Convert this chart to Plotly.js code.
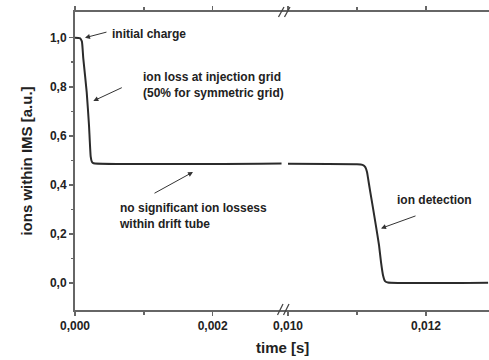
<!DOCTYPE html>
<html>
<head>
<meta charset="utf-8">
<script src="https://cdn.plot.ly/plotly-3.0.1.min.js"></script>
<style>html,body{margin:0;padding:0;background:#fff;}#chart{width:489px;height:360px;}</style>
</head>
<body>
<div id="chart"></div>
<script>
// Early part of the time axis (before the break), seconds
const leftTime = [0, 0.00007, 0.0001, 0.00012, 0.00017, 0.000203, 0.000228, 0.000245, 0.00027, 0.00300];
const leftIons = [1.0, 0.998, 0.985, 0.917, 0.778, 0.644, 0.515, 0.494, 0.488, 0.487];
// Late part of the time axis (after the break), seconds
const rightTime = [0.01000, 0.01100, 0.01108, 0.01112, 0.011145, 0.01116, 0.011188, 0.011232, 0.011275, 0.011319, 0.011348, 0.011377, 0.011406, 0.011449, 0.0129];
const rightIons = [0.486, 0.484, 0.481, 0.472, 0.452, 0.427, 0.378, 0.305, 0.231, 0.154, 0.084, 0.031, 0.007, 0.001, 0.0];
// Tick labels
const leftMajorTicks = [0, 0.002];
const leftMinorTicks = [0.001];
const rightMajorTicks = [0.010, 0.012];
const rightMinorTicks = [0.011];
const yMajorTicks = [0, 0.2, 0.4, 0.6, 0.8, 1.0];
const yMinorTicks = [0.1, 0.3, 0.5, 0.7, 0.9];

const FONT = 'Liberation Sans, Arial, sans-serif';
const TXT = '#222';
const AX = '#666';
const LINE = '#2b2b2b';

function bold(s){ return '<b>' + s + '</b>'; }

const traces = [
  {x: leftTime, y: leftIons, xaxis: 'x', yaxis: 'y', mode: 'lines',
   line: {color: LINE, width: 2, shape: 'spline', smoothing: 0.4}, hoverinfo: 'skip'},
  {x: rightTime, y: rightIons, xaxis: 'x2', yaxis: 'y', mode: 'lines',
   line: {color: LINE, width: 2, shape: 'spline', smoothing: 0.4}, hoverinfo: 'skip'}
];

const xCommon = {
  showline: true, linecolor: AX, linewidth: 2, mirror: 'ticks',
  ticks: 'outside', ticklen: 4, tickwidth: 1.5, tickcolor: AX,
  showgrid: false, zeroline: false, tickformat: '.3f',
  tickfont: {family: FONT, size: 12, color: TXT, weight: 'bold'},
  tickmode: 'array'
};

const split = (288 - 75) / 414;

const layout = {
  width: 489, height: 360,
  margin: {l: 75, r: 0, t: 12, b: 50},
  paper_bgcolor: '#fff', plot_bgcolor: '#fff',
  showlegend: false,
  separators: ',.',
  font: {family: FONT, color: TXT},
  xaxis: Object.assign({}, xCommon, {
    domain: [0, split], range: [0, 0.003094], anchor: 'y',
    tickvals: leftMajorTicks,
    minor: {tickmode: 'array', tickvals: leftMinorTicks, ticks: 'outside', ticklen: 3, tickwidth: 1.5, tickcolor: AX}
  }),
  xaxis2: Object.assign({}, xCommon, {
    domain: [split, 1], range: [0.010, 0.012913], anchor: 'y',
    tickvals: rightMajorTicks,
    minor: {tickmode: 'array', tickvals: rightMinorTicks, ticks: 'outside', ticklen: 3, tickwidth: 1.5, tickcolor: AX}
  }),
  yaxis: {
    range: [-0.111, 1.105], showline: true, linecolor: AX, linewidth: 2, mirror: false,
    ticks: 'outside', ticklen: 4, tickwidth: 1.5, tickcolor: AX,
    showgrid: false, zeroline: false, tickformat: '.1f',
    tickmode: 'array', tickvals: yMajorTicks,
    minor: {tickmode: 'array', tickvals: yMinorTicks, ticks: 'outside', ticklen: 2, tickwidth: 1.5, tickcolor: AX},
    tickfont: {family: FONT, size: 12, color: TXT, weight: 'bold'},
    title: {text: bold('ions within IMS [a.u.]'), font: {family: FONT, size: 15, color: TXT}, standoff: 14}
  },
  annotations: [
    // arrows
    {xref: 'x', yref: 'y', x: 0.000145, y: 1.0, ax: 23, ay: -6, text: '', showarrow: true,
     arrowhead: 2, arrowsize: 1, arrowwidth: 1, arrowcolor: '#333'},
    {xref: 'x', yref: 'y', x: 0.000266, y: 0.742, ax: 30, ay: -14, text: '', showarrow: true,
     arrowhead: 2, arrowsize: 1, arrowwidth: 1, arrowcolor: '#333'},
    {xref: 'x', yref: 'y', x: 0.001714, y: 0.452, ax: -40, ay: 22, text: '', showarrow: true,
     arrowhead: 2, arrowsize: 1, arrowwidth: 1, arrowcolor: '#333'},
    {xref: 'x2', yref: 'y', x: 0.011348, y: 0.222, ax: 36, ay: -13, text: '', showarrow: true,
     arrowhead: 2, arrowsize: 1, arrowwidth: 1, arrowcolor: '#333'},
    // labels
    {xref: 'paper', yref: 'paper', x: 0.0845, y: 0.926, xanchor: 'left', yanchor: 'middle', showarrow: false,
     text: bold('initial charge'), font: {family: FONT, size: 12, color: TXT}},
    {xref: 'paper', yref: 'paper', x: 0.1594, y: 0.755, xanchor: 'left', yanchor: 'middle', showarrow: false, align: 'left',
     text: bold('ion loss at injection grid') + '<br>' + bold('(50% for symmetric grid)'), font: {family: FONT, size: 12, color: TXT}},
    {xref: 'paper', yref: 'paper', x: 0.1014, y: 0.316, xanchor: 'left', yanchor: 'middle', showarrow: false, align: 'left',
     text: bold('no significant ion lossess') + '<br>' + bold('within drift tube'), font: {family: FONT, size: 12, color: TXT}},
    {xref: 'paper', yref: 'paper', x: 0.773, y: 0.369, xanchor: 'left', yanchor: 'middle', showarrow: false,
     text: bold('ion detection'), font: {family: FONT, size: 12, color: TXT}},
    // x axis title
    {xref: 'paper', yref: 'paper', x: (282 - 75) / 414, y: (310 - 347) / 298, xanchor: 'center', yanchor: 'middle', showarrow: false,
     text: bold('time [s]'), font: {family: FONT, size: 15, color: TXT}}
  ],
  shapes: [
    // axis break marks (top)
    {type: 'line', xref: 'paper', yref: 'paper', x0: (278.5 - 75) / 414, x1: (284 - 75) / 414, y0: (310 - 17) / 298, y1: (310 - 7) / 298, line: {color: '#444', width: 1.3}},
    {type: 'line', xref: 'paper', yref: 'paper', x0: (284.5 - 75) / 414, x1: (290 - 75) / 414, y0: (310 - 17) / 298, y1: (310 - 7) / 298, line: {color: '#444', width: 1.3}},
    // axis break marks (bottom)
    {type: 'line', xref: 'paper', yref: 'paper', x0: (277.5 - 75) / 414, x1: (283 - 75) / 414, y0: (310 - 315) / 298, y1: (310 - 304) / 298, line: {color: '#444', width: 1.3}},
    {type: 'line', xref: 'paper', yref: 'paper', x0: (283.5 - 75) / 414, x1: (289 - 75) / 414, y0: (310 - 315) / 298, y1: (310 - 304) / 298, line: {color: '#444', width: 1.3}}
  ]
};

Plotly.newPlot('chart', traces, layout, {staticPlot: true, displayModeBar: false});
</script>
</body>
</html>
